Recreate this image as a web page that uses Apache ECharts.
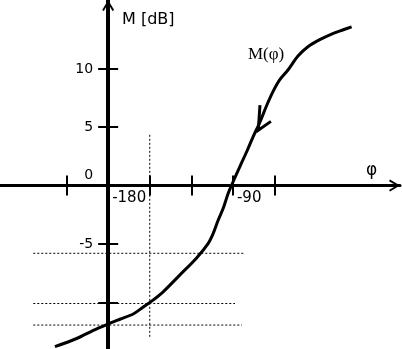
<!DOCTYPE html>
<html><head><meta charset="utf-8">
<script src="https://cdn.jsdelivr.net/npm/echarts@6/dist/echarts.min.js"></script>
<style>html,body{margin:0;padding:0;background:#fff}#c{width:402px;height:349px}</style>
</head><body><div id="c"></div>
<script>
// M(phi) curve: phase [deg] and magnitude [dB]
const phaseDeg = [-218.4,-202.7,-190.7,-179.9,-171.5,-161.9,-154.7,-148.6,-140.3,-128.2,-116.2,-107.8,-104.2,-100.6,-97.0,-93.4,-89.8,-84.9,-80.1,-75.4,-70.5,-65.9,-61.1,-56.3,-50.3,-43.1,-35.9,-27.4,-17.6,-10.4,-4.4];
const magDb    = [-13.8,-13.1,-12.4,-11.85,-11.45,-11.0,-10.4,-9.9,-9.1,-7.65,-6.2,-4.95,-4.1,-2.95,-1.95,-0.65,0.35,1.65,2.9,4.2,5.45,6.8,8.05,9.05,9.9,11.1,11.9,12.5,13.05,13.35,13.6];
// axes
const xRange = [-258, 30.5];
const yRange = [-14, 15.9];
const xTicks = [-210, -180, -150, -120, -90, -60];
const xLabels = [-180, -90];
const yTicks = [10, 5, -5, -10];
const yLabels = [10, 5, 0, -5];
const yAxisAt = -180;   // phase where the M axis stands
const xAxisAt = 0;      // magnitude where the phase axis lies
// dotted guide lines
const guideStart = -234;
const guideLevels = [-5.8, -10.1, -11.95];
const guideEnds = [-82.5, -88.5, -83.5];
const guidePhase = -150;
const guidePhaseFrom = 4.35, guidePhaseTo = -13.1;
// direction arrow on the curve
const arrowPhase = [-70.5, -71.7, -62.6];
const arrowMag = [6.9, 4.75, 5.5];

const chart = echarts.init(document.getElementById('c'));
const arrowSym = 'path://M6,0L12,10L10.3,11L6,3.6L1.7,11L0,10Z';
const font = 'DejaVu Sans';

const dotted = {color: '#000', width: 1, type: [2, 2]};
const series = [];
series.push({type: 'line', data: phaseDeg.map((p, i) => [p, magDb[i]]), symbol: 'none', smooth: 0.3,
  lineStyle: {color: '#000', width: 3}, z: 5});
guideLevels.forEach((lv, i) => series.push({type: 'line', symbol: 'none', silent: true,
  data: [[guideStart, lv], [guideEnds[i], lv]], lineStyle: dotted, z: 3}));
series.push({type: 'line', symbol: 'none', silent: true,
  data: [[guidePhase, guidePhaseFrom], [guidePhase, guidePhaseTo]], lineStyle: dotted, z: 3});
series.push({type: 'line', symbol: 'none', silent: true,
  data: arrowPhase.map((p, i) => [p, arrowMag[i]]), lineStyle: {color: '#000', width: 3, join: 'miter'}, z: 6});

const xBase = {type: 'value', min: xRange[0], max: xRange[1], position: 'bottom', splitLine: {show: false}};
const yBase = {type: 'value', min: yRange[0], max: yRange[1], position: 'left', splitLine: {show: false}};

chart.setOption({
  animation: false,
  grid: {left: 0, right: 2, top: 0, bottom: 0, containLabel: false, outerBoundsMode: 'none'},
  xAxis: [
    Object.assign({}, xBase, {
      axisLine: {show: true, onZero: false, lineStyle: {color: '#000', width: 3},
        symbol: ['none', arrowSym], symbolSize: [12, 11], symbolOffset: [0, -5.5]},
      axisTick: {show: true, length: 10, lineStyle: {color: '#000', width: 2}, customValues: xTicks},
      axisLabel: {show: true, customValues: xLabels, align: 'left', margin: 5, padding: [0, 0, 0, 4],
        color: '#000', fontFamily: font, fontSize: 15, hideOverlap: false}
    }),
    Object.assign({}, xBase, {
      axisLine: {show: false, onZero: false},
      axisTick: {show: true, inside: true, length: 10, lineStyle: {color: '#000', width: 2}, customValues: xTicks},
      axisLabel: {show: false}
    })
  ],
  yAxis: [
    Object.assign({}, yBase, {
      axisLine: {show: true, onZero: false, lineStyle: {color: '#000', width: 4},
        symbol: ['none', arrowSym], symbolSize: [12, 11], symbolOffset: [0, -5.5]},
      axisTick: {show: true, length: 10, lineStyle: {color: '#000', width: 2}, customValues: yTicks},
      axisLabel: {show: true, customValues: yLabels, margin: 15, color: '#000', fontFamily: font, fontSize: 14,
        formatter: v => v === 0 ? '{z|0}' : String(v),
        rich: {z: {padding: [0, 0, 20, 0], fontFamily: font, fontSize: 14, color: '#000'}}}
    }),
    Object.assign({}, yBase, {
      axisLine: {show: false, onZero: false},
      axisTick: {show: true, inside: true, length: 10, lineStyle: {color: '#000', width: 2}, customValues: yTicks},
      axisLabel: {show: false}
    })
  ],
  graphic: [
    {type: 'text', left: 122, top: 12, style: {text: 'M [dB]', font: '16px "DejaVu Sans"', fill: '#000'}},
    {type: 'text', left: 248, top: 46, style: {text: 'M(φ)', font: '17px "Liberation Serif"', fill: '#000'}},
    {type: 'text', left: 366, top: 162, style: {text: 'φ', font: '17px "DejaVu Sans"', fill: '#000'}}
  ],
  series: series
});
const px = chart.convertToPixel({xAxisIndex: 0}, yAxisAt);
const py = chart.convertToPixel({yAxisIndex: 0}, xAxisAt);
const offY = -(chart.getHeight() - py);
chart.setOption({yAxis: [{offset: -px}, {offset: -px}], xAxis: [{offset: offY}, {offset: offY}]});
</script></body></html>
